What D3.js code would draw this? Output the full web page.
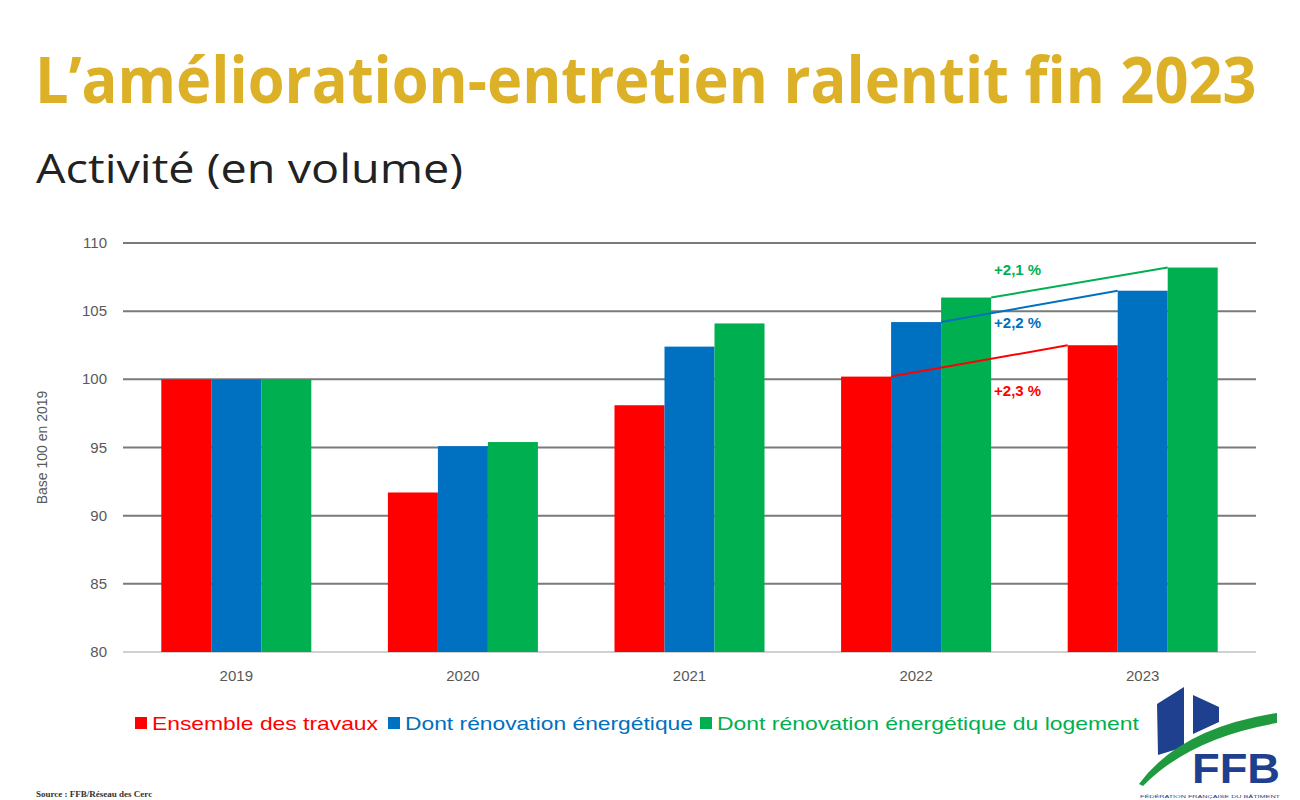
<html>
    <head>
        <meta charset="utf-8">
        <title>Amélioration-entretien</title>
        <style>
            body { margin: 0; background: #fff; }
        </style>
    </head>

    <body>
        <div id="svghere"></div>

        <script src="https://d3js.org/d3.v7.min.js"></script>
        <script>
        // data
        var years = ['2019', '2020', '2021', '2022', '2023'];
        var seriesNames = ['Ensemble des travaux', 'Dont rénovation énergétique', 'Dont rénovation énergétique du logement'];
        var seriesColors = ['#ff0000', '#0070c0', '#00b050'];
        var ensemble = [100, 91.7, 98.1, 100.2, 102.5];
        var renovation = [100, 95.1, 102.4, 104.2, 106.5];
        var renovLogement = [100, 95.4, 104.1, 106.0, 108.2];
        var yTicks = [80, 85, 90, 95, 100, 105, 110];
        var growthLabels = ['+2,3 %', '+2,2 %', '+2,1 %'];

        var series = [ensemble, renovation, renovLogement];

        var svg = d3.select('#svghere')
            .append('svg')
            .attr('width', 1300)
            .attr('height', 800);

        // titles (squeezed horizontally to mimic the narrow slide font)
        var title = svg.append('text')
            .attr('x', 0).attr('y', 0)
            .attr('font-family', 'Open Sans')
            .attr('font-weight', 700)
            .attr('font-size', 64)
            .attr('fill', '#dcb128')
            .text('L’amélioration-entretien ralentit fin 2023');
        var tw = title.node().getComputedTextLength();
        title.attr('transform', 'translate(35,103) scale(' + (1222 / tw) + ',1)');

        svg.append('text')
            .attr('x', 36).attr('y', 183)
            .attr('font-family', 'Open Sans')
            .attr('font-size', 40)
            .attr('fill', '#222')
            .attr('textLength', 427)
            .attr('lengthAdjust', 'spacingAndGlyphs')
            .text('Activité (en volume)');

        var x = d3.scaleBand()
            .domain(years)
            .range([123, 1256])
            .paddingInner(0.338)
            .paddingOuter(0.169);

        var xs = d3.scaleBand()
            .domain(d3.range(series.length))
            .range([0, x.bandwidth()]);

        var y = d3.scaleLinear()
            .domain([80, 110])
            .range([652, 243]);

        // grid lines
        svg.append('g')
            .selectAll('line')
            .data(yTicks)
            .enter()
            .append('line')
            .attr('x1', 123).attr('x2', 1256)
            .attr('y1', function(d) { return y(d); })
            .attr('y2', function(d) { return y(d); })
            .style('stroke', function(d) { return d === 80 ? '#d0d0d0' : '#7a7a7a'; })
            .style('stroke-width', 2);

        // y tick labels
        svg.append('g')
            .selectAll('text')
            .data(yTicks)
            .enter()
            .append('text')
            .attr('x', 107)
            .attr('y', function(d) { return y(d) + 5; })
            .attr('text-anchor', 'end')
            .attr('font-family', 'Liberation Sans')
            .attr('font-size', 15)
            .attr('fill', '#595959')
            .text(function(d) { return d; });

        svg.append('text')
            .attr('transform', 'translate(47,' + y(95) + ') rotate(-90)')
            .attr('text-anchor', 'middle')
            .attr('font-family', 'Liberation Sans')
            .attr('font-size', 14)
            .attr('fill', '#595959')
            .text('Base 100 en 2019');

        // bars
        var groups = svg.append('g')
            .selectAll('g')
            .data(series)
            .enter()
            .append('g')
            .attr('fill', function(d, i) { return seriesColors[i]; });

        groups.each(function(values, si) {
            d3.select(this)
                .selectAll('rect')
                .data(values)
                .enter()
                .append('rect')
                .attr('x', function(d, i) { return x(years[i]) + xs(si); })
                .attr('width', xs.bandwidth())
                .attr('y', function(d) { return y(d); })
                .attr('height', function(d) { return y(80) - y(d); });
        });

        // x labels
        svg.append('g')
            .selectAll('text')
            .data(years)
            .enter()
            .append('text')
            .attr('x', function(d) { return x(d) + x.bandwidth() / 2; })
            .attr('y', 681)
            .attr('text-anchor', 'middle')
            .attr('font-family', 'Liberation Sans')
            .attr('font-size', 15)
            .attr('fill', '#595959')
            .text(function(d) { return d; });

        // growth lines 2022 -> 2023
        var labelDy = [38, 15, -22];
        series.forEach(function(values, si) {
            var x1 = x('2022') + xs(si) + xs.bandwidth();
            var x2 = x('2023') + xs(si);
            var y1 = y(values[3]);
            var y2 = y(values[4]);
            svg.append('line')
                .attr('x1', x1).attr('y1', y1)
                .attr('x2', x2).attr('y2', y2)
                .style('stroke', seriesColors[si])
                .style('stroke-width', 2);

            var lx = x('2022') + x.bandwidth() + 3;
            var ly = y1 + (y2 - y1) * (lx - x1) / (x2 - x1);
            svg.append('text')
                .attr('x', lx)
                .attr('y', ly + labelDy[si])
                .attr('font-family', 'Liberation Sans')
                .attr('font-weight', 'bold')
                .attr('font-size', 15)
                .attr('fill', seriesColors[si])
                .text(growthLabels[si]);
        });

        // legend
        var legendX = [135, 388, 700];
        var legendW = [226, 288, 422];
        var legend = svg.append('g')
            .selectAll('g')
            .data(seriesNames)
            .enter()
            .append('g')
            .attr('transform', function(d, i) { return 'translate(' + legendX[i] + ',723)'; });

        legend.append('rect')
            .attr('x', 0).attr('y', -6)
            .attr('width', 12).attr('height', 12)
            .attr('fill', function(d, i) { return seriesColors[i]; });

        legend.append('text')
            .attr('x', 17).attr('y', 7)
            .attr('font-family', 'Liberation Sans Narrow, Liberation Sans')
            .attr('font-size', 19)
            .attr('fill', function(d, i) { return seriesColors[i]; })
            .attr('textLength', function(d, i) { return legendW[i]; })
            .attr('lengthAdjust', 'spacingAndGlyphs')
            .text(function(d) { return d; });

        // source
        svg.append('text')
            .attr('x', 36).attr('y', 797)
            .attr('font-family', 'Liberation Serif')
            .attr('font-weight', 'bold')
            .attr('font-size', 9)
            .attr('fill', '#333')
            .text('Source : FFB/Réseau des Cerc');

        // FFB logo
        var logo = svg.append('g');
        logo.append('path')
            .attr('d', 'M1157,704 L1184,687 L1184,747 L1158,755 Z')
            .attr('fill', '#1f3f8f');
        logo.append('path')
            .attr('d', 'M1193,695 L1219,707 L1219,722 L1193,734 Z')
            .attr('fill', '#1f3f8f');
        logo.append('path')
            .attr('d', 'M1139,784 Q1180,728 1277,713 L1277,723 Q1190,738 1143,786 Z')
            .attr('fill', '#1f9a3e');
        logo.append('text')
            .attr('x', 1192).attr('y', 783)
            .attr('font-family', 'Liberation Sans')
            .attr('font-weight', 'bold')
            .attr('font-size', 42)
            .attr('fill', '#1f3f8f')
            .attr('textLength', 88)
            .attr('lengthAdjust', 'spacingAndGlyphs')
            .text('FFB');
        logo.append('text')
            .attr('x', 1140).attr('y', 798)
            .attr('font-family', 'Liberation Sans')
            .attr('font-size', 4)
            .attr('fill', '#1f3f8f')
            .attr('textLength', 140)
            .attr('lengthAdjust', 'spacingAndGlyphs')
            .text('FÉDÉRATION FRANÇAISE DU BÂTIMENT');
        </script>
    </body>
</html>
